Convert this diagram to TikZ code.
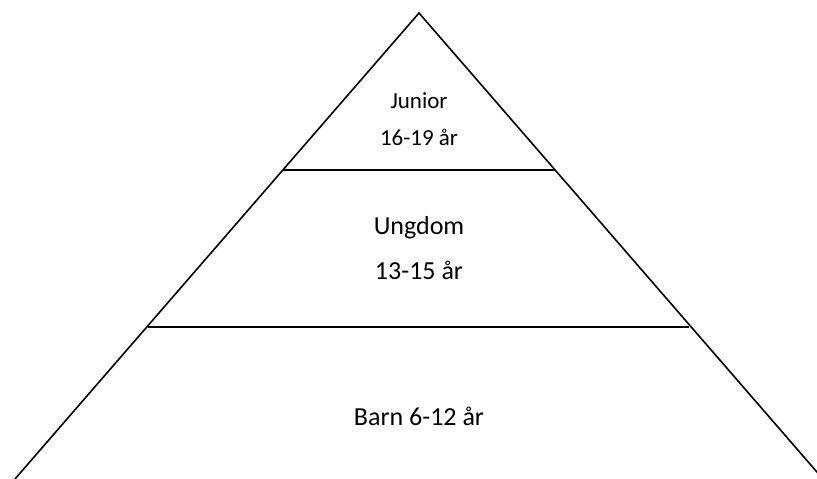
\documentclass[tikz,border=0pt]{standalone}
\usepackage{fontspec}
\setmainfont{Carlito}
\begin{document}
\begin{tikzpicture}[x=1pt,y=1pt,
  edge/.style={draw=black,line width=1.6pt},
  lbl/.style={inner sep=0pt,anchor=center,text=black}]
\useasboundingbox (0,0) rectangle (817,479);
\coordinate (apex) at (419,466);
\coordinate (bl) at (15,0);
\coordinate (br) at (823,0);
\coordinate (a1) at (283,309);
\coordinate (b1) at (555,309);
\coordinate (a2) at (148,152);
\coordinate (b2) at (689,152);
\draw[edge] (bl) -- (apex) -- (br);
\draw[edge] (a1) -- (b1);
\draw[edge] (a2) -- (b2);
\node[lbl,font=\fontsize{23}{28}\selectfont] (junior) at (419,378) {Junior};
\node[lbl,font=\fontsize{23}{28}\selectfont] (jage) at (419,342) {16-19 år};
\node[lbl,font=\fontsize{26}{31}\selectfont] (ungdom) at (419,251) {Ungdom};
\node[lbl,font=\fontsize{26}{31}\selectfont] (uage) at (419,209) {13-15 år};
\node[lbl,font=\fontsize{26}{31}\selectfont] (barn) at (419,63) {Barn 6-12 år};
\end{tikzpicture}
\end{document}
